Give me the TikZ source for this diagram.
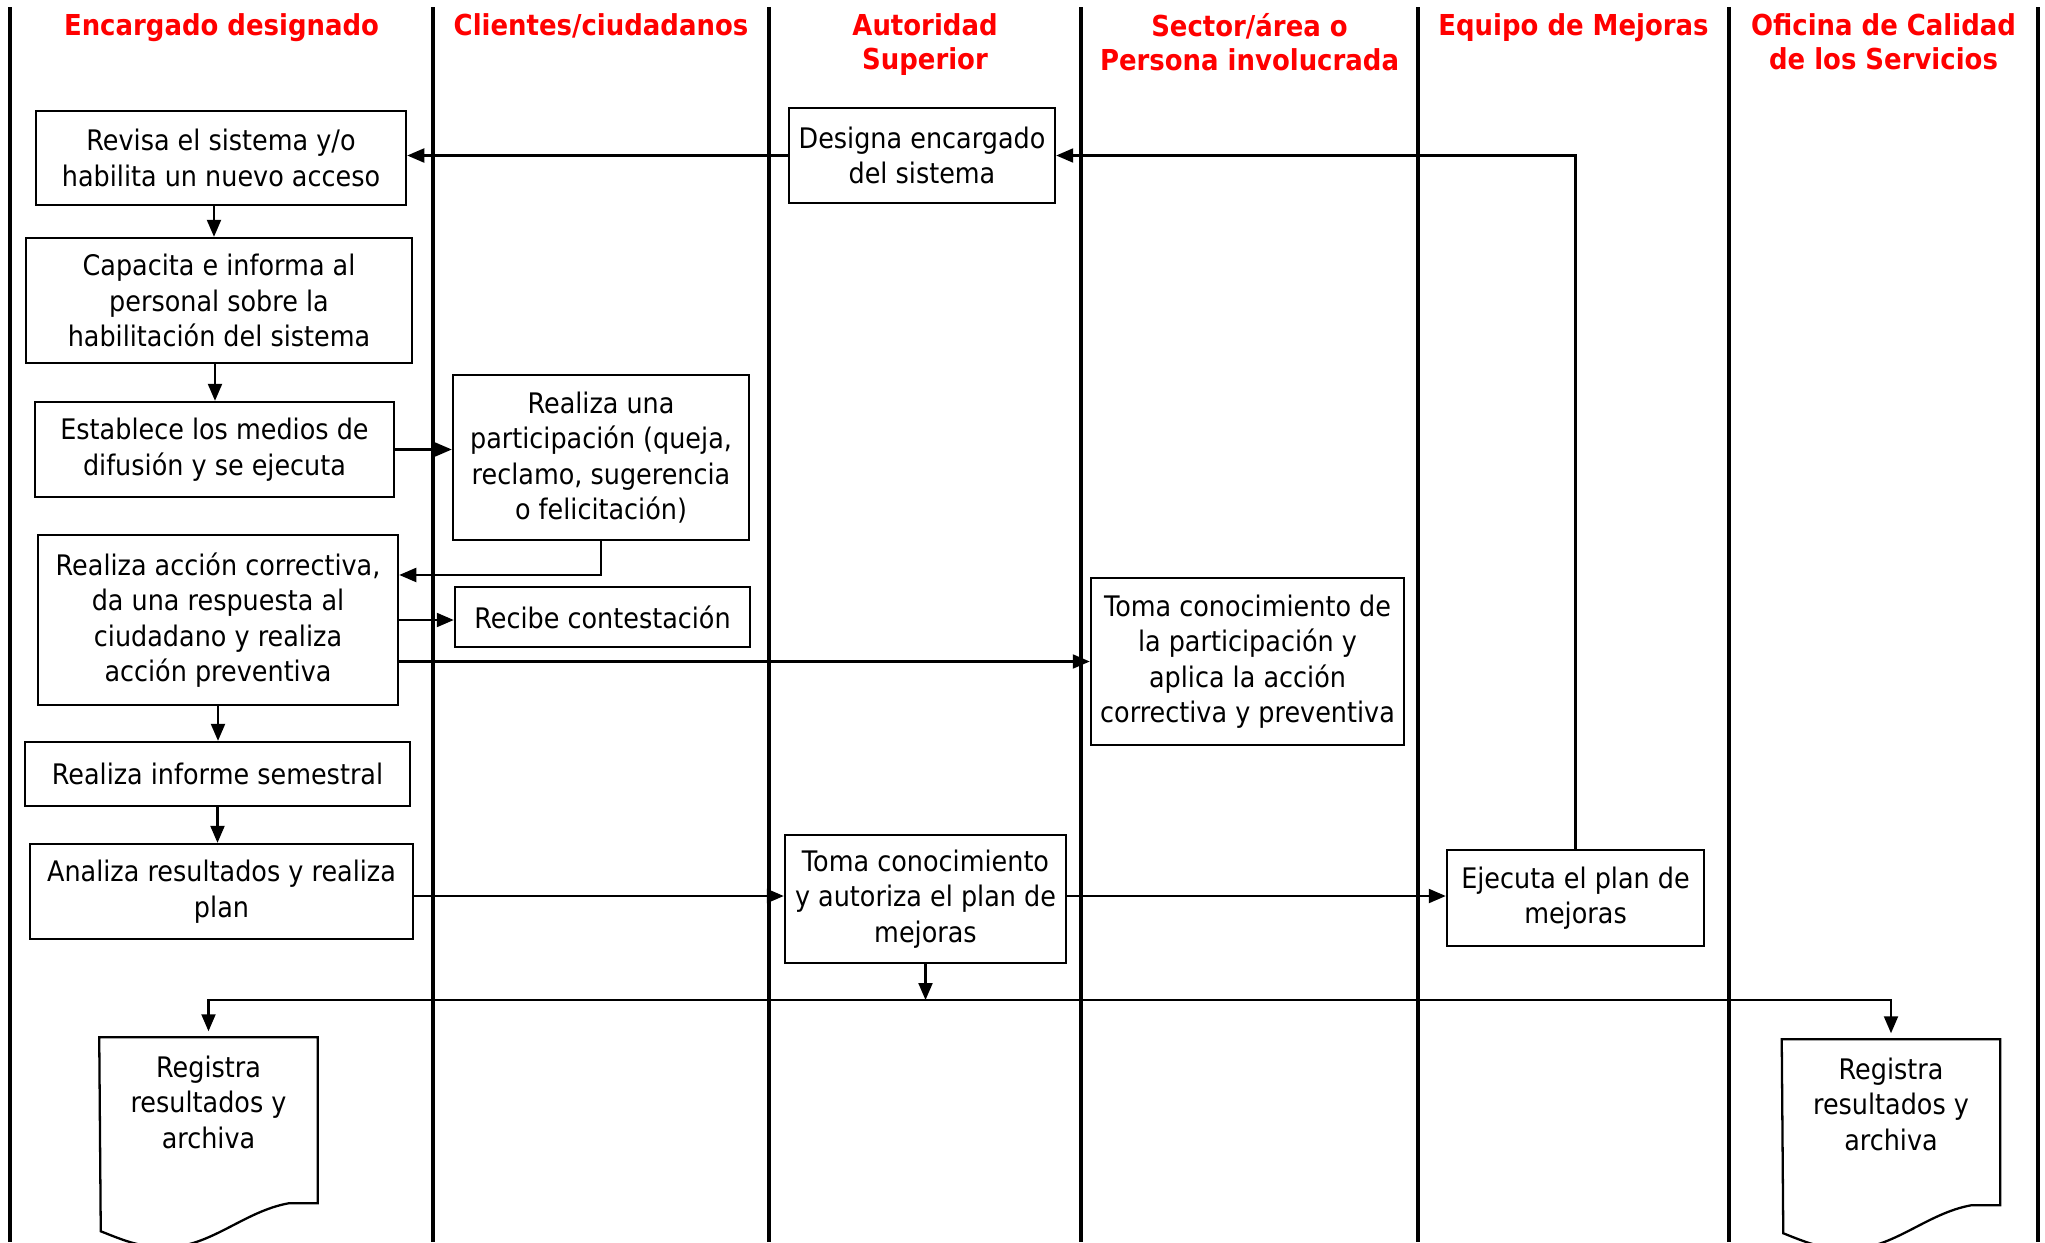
\documentclass[tikz,border=0pt]{standalone}
\usepackage{fontspec}
\setmainfont{DejaVu Sans}[FakeStretch=0.9]
\usetikzlibrary{arrows.meta,calc}
\definecolor{hdrred}{RGB}{255,0,0}
\tikzset{
  blk/.style={draw, rectangle, line width=0.65pt, align=center, inner sep=1pt, font=\fontsize{8.05}{10.1}\selectfont},
  doc/.style={rectangle, align=center, inner sep=1pt, minimum width=2.17cm, minimum height=1.28cm, font=\fontsize{8.05}{10.1}\selectfont},
  hdr/.style={align=center, inner sep=0pt, anchor=north, text=hdrred, font=\fontsize{8.2}{9.7}\selectfont\bfseries},
  lane/.style={line width=0.9pt},
  arr/.style={-{Triangle[length=1.7mm, width=1.4mm]}, line width=0.6pt},
}

\begin{document}
\begin{tikzpicture}[x=0.01cm, y=-0.01cm]
\useasboundingbox (0,0) rectangle (2045,1242);
\clip (0,0) rectangle (2045,1242);

% swimlanes
\foreach \x in {10,433,769,1081,1418,1729,2038}
  \draw[lane] (\x,7) -- (\x,1242);

\node[hdr] (h1) at (221.5,13) {Encargado designado};
\node[hdr] (h2) at (601,13) {Clientes/ciudadanos};
\node[hdr] (h3) at (925,13) {Autoridad\\Superior};
\node[hdr] (h4) at (1249.5,13) {Sector/área o\\Persona involucrada};
\node[hdr] (h5) at (1573.5,13) {Equipo de Mejoras};
\node[hdr] (h6) at (1883.5,13) {Oficina de Calidad\\de los Servicios};

% encargado designado
\node[blk, minimum width=3.70cm, minimum height=0.94cm] (revisa) at (221,158)
  {Revisa el sistema y/o\\habilita un nuevo acceso};
\node[blk, minimum width=3.86cm, minimum height=1.25cm] (capacita) at (219,300.5)
  {Capacita e informa al\\personal sobre la\\habilitación del sistema};
\node[blk, minimum width=3.59cm, minimum height=0.95cm] (establece) at (214.5,449.5)
  {Establece los medios de\\difusión y se ejecuta};
\node[blk, minimum width=3.60cm, minimum height=1.70cm] (accion) at (218,620)
  {Realiza acción correctiva,\\da una respuesta al\\ciudadano y realiza\\acción preventiva};
\node[blk, minimum width=3.85cm, minimum height=0.64cm] (informe) at (217.5,774)
  {Realiza informe semestral};
\node[blk, minimum width=3.83cm, minimum height=0.95cm] (analiza) at (221.5,891.5)
  {Analiza resultados y realiza\\plan};

% clientes
\node[blk, minimum width=2.96cm, minimum height=1.65cm] (particip) at (601,457.5)
  {Realiza una\\participación (queja,\\reclamo, sugerencia\\o felicitación)};
\node[blk, minimum width=2.95cm, minimum height=0.60cm] (recibe) at (602.5,617)
  {Recibe contestación};

% autoridad
\node[blk, minimum width=2.66cm, minimum height=0.95cm] (designa) at (922,155.5)
  {Designa encargado\\del sistema};
\node[blk, minimum width=2.81cm, minimum height=1.28cm] (tomaaut) at (925.5,899)
  {Toma conocimiento\\y autoriza el plan de\\mejoras};

% sector y equipo
\node[blk, minimum width=3.13cm, minimum height=1.67cm] (tomapart) at (1247.5,661.5)
  {Toma conocimiento de\\la participación y\\aplica la acción\\correctiva y preventiva};
\node[blk, minimum width=2.57cm, minimum height=0.96cm] (ejecuta) at (1575.5,898)
  {Ejecuta el plan de\\mejoras};

% registros
\node[doc] (docL) at (208.5,1102) {Registra\\resultados y\\archiva};
\node[doc] (docR) at (1891,1104) {Registra\\resultados y\\archiva};
\foreach \d in {docL,docR}
  \draw[line width=0.65pt] (\d.north west) -- (\d.north east) -- ++(0,166) -- ++(-29,0)
    .. controls +(-45,8) and +(45,0) .. ++(-123,44)
    .. controls +(-25,0) and +(25,10) .. ++(-65,-16) -- cycle;

% connectors
\coordinate (plan) at (0,896);
\draw[arr] (designa.west) -- (designa.west -| revisa.east);
\draw[arr] (ejecuta.north) |- (designa.east);
\draw[arr] ([xshift=-0.07cm]revisa.south) -- ([xshift=-0.07cm]revisa.south |- capacita.north);
\draw[arr] ([xshift=-0.04cm]capacita.south) -- ([xshift=-0.04cm]capacita.south |- establece.north);
\draw[arr] (establece.east) -- (establece.east -| particip.west);
\draw[arr] (particip.south) |- ([yshift=0.45cm]accion.east);
\draw[arr] (accion.east) -- (accion.east -| recibe.west);
\draw[arr] (accion.east |- tomapart.west) -- (tomapart.west);
\draw[arr] (accion.south) -- (accion.south |- informe.north);
\draw[arr] (informe.south) -- (informe.south |- analiza.north);
\draw[arr] (analiza.east |- plan) -- (tomaaut.west |- plan);
\draw[arr] (tomaaut.east |- plan) -- (ejecuta.west |- plan);

\coordinate (split) at (925.5,1000);
\draw[arr] (tomaaut.south) -- (tomaaut.south |- split);
\draw[arr] (split) -| ([yshift=0.06cm]docL.north);
\draw[arr] (split) -| ([yshift=0.06cm]docR.north);

\end{tikzpicture}
\end{document}
